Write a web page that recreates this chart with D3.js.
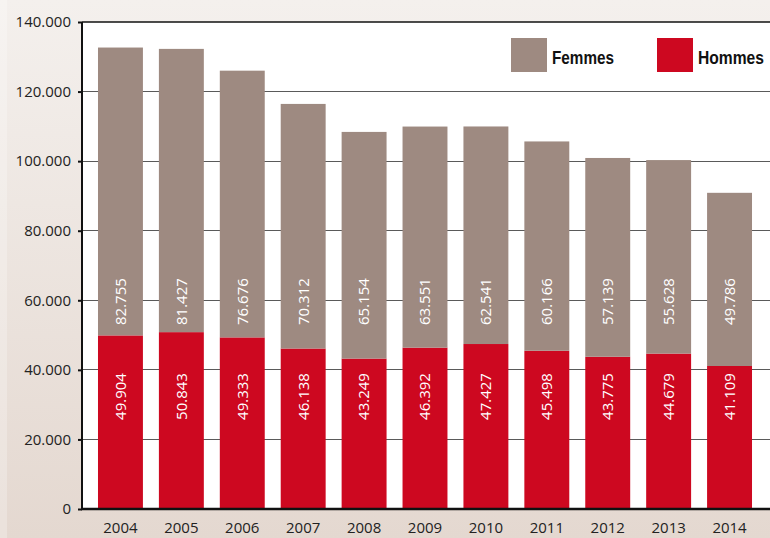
<!DOCTYPE html>
<html>
<head>
<meta charset="utf-8">
<script src="https://cdn.jsdelivr.net/npm/d3@7"></script>
<style>
html,body{margin:0;padding:0;background:#fff;}
svg{display:block;}
</style>
</head>
<body>
<svg id="chart" width="770" height="538"></svg>
<script>
const years = ["2004","2005","2006","2007","2008","2009","2010","2011","2012","2013","2014"];
const hommes = [49904,50843,49333,46138,43249,46392,47427,45498,43775,44679,41109];
const femmes = [82755,81427,76676,70312,65154,63551,62541,60166,57139,55628,49786];
const yTicks = [0,20000,40000,60000,80000,100000,120000,140000];
const seriesNames = ["Femmes","Hommes"];
const colors = {Femmes:"#9e8a81", Hommes:"#cd0820"};

(function(){
const W = 770, H = 538;
const pL = 82, pR = 770, pT = 22, pB = 509;
const svg = d3.select("#chart");
const fr = d3.formatLocale({decimal:",", thousands:".", grouping:[3], currency:["","€"]});
const fmt = fr.format(",d");

// background gradient
const defs = svg.append("defs");
const g = defs.append("linearGradient").attr("id","bg").attr("x1",0).attr("y1",0).attr("x2",0).attr("y2",1);
g.append("stop").attr("offset","0%").attr("stop-color","#f4f0ed");
g.append("stop").attr("offset","100%").attr("stop-color","#e4d8d0");
svg.append("rect").attr("width",W).attr("height",H).attr("fill","url(#bg)");
svg.append("rect").attr("width",7).attr("height",H).attr("fill","#fff").attr("opacity",0.25);

const x = d3.scaleBand().domain(years).range([90,760]).paddingInner(16/61).paddingOuter(8/61);
const y = d3.scaleLinear().domain([0,140000]).range([pB, pT]);

// plot area
svg.append("rect").attr("x",pL).attr("y",pT).attr("width",pR-pL).attr("height",pB-pT).attr("fill","#fff");

// gridlines
svg.append("g").selectAll("line").data(yTicks.filter(d=>d>0 && d<140000)).join("line")
  .attr("x1",pL).attr("x2",pR).attr("y1",d=>y(d)).attr("y2",d=>y(d))
  .attr("stroke","#5a5a5a").attr("stroke-width",1).attr("shape-rendering","crispEdges");

// bars
const data = years.map((yr,i)=>({yr, h:hommes[i], f:femmes[i]}));
const bars = svg.append("g");
bars.selectAll("rect.h").data(data).join("rect").attr("class","h")
  .attr("x",d=>x(d.yr)).attr("width",x.bandwidth())
  .attr("y",d=>y(d.h)).attr("height",d=>y(0)-y(d.h)).attr("fill",colors.Hommes);
bars.selectAll("rect.f").data(data).join("rect").attr("class","f")
  .attr("x",d=>x(d.yr)).attr("width",x.bandwidth())
  .attr("y",d=>y(d.h+d.f)).attr("height",d=>y(d.h)-y(d.h+d.f)).attr("fill",colors.Femmes);

// value labels
const lab = svg.append("g").attr("font-family","'Open Sans', sans-serif").attr("font-size",15).attr("fill","#fff");
lab.selectAll("text.h").data(data).join("text")
  .attr("transform",d=>`translate(${x(d.yr)+x.bandwidth()/2},${y(25600)}) rotate(-90)`)
  .attr("dy","0.36em").text(d=>fmt(d.h));
lab.selectAll("text.f").data(data).join("text")
  .attr("transform",d=>`translate(${x(d.yr)+x.bandwidth()/2},${y(52900)}) rotate(-90)`)
  .attr("dy","0.36em").text(d=>fmt(d.f));

// top border
svg.append("line").attr("x1",pL).attr("x2",pR).attr("y1",pT).attr("y2",pT)
  .attr("stroke","#111").attr("stroke-width",1.5);

// y axis
const yAxis = svg.append("g").attr("transform",`translate(${pL},0)`)
  .call(d3.axisLeft(y).tickValues(yTicks).tickSize(4).tickFormat(d=>fmt(d)));
yAxis.select(".domain").attr("stroke","#111").attr("stroke-width",2).attr("d",`M0,${pT}V${pB+1}`);
yAxis.selectAll(".tick line").attr("stroke","#111").attr("stroke-width",2);
yAxis.selectAll(".tick text").attr("x",-11).attr("font-family","'Open Sans', sans-serif").attr("font-size",15).attr("fill","#222");

// x axis
const xAxis = svg.append("g").attr("transform",`translate(0,${pB})`)
  .call(d3.axisBottom(x).tickSize(0).tickPadding(0));
xAxis.select(".domain").attr("stroke","#111").attr("stroke-width",2.5).attr("d",`M${pL-1},0H${pR}`);
xAxis.selectAll(".tick text").attr("y",24).attr("dy",0).attr("font-family","'Open Sans', sans-serif").attr("font-size",15).attr("fill","#222");

// legend
const legend = svg.append("g");
const lx = [511, 657];
const lw = [62, 66];
seriesNames.forEach((s,i)=>{
  legend.append("rect").attr("x",lx[i]).attr("y",38).attr("width",36).attr("height",34).attr("fill",colors[s]);
  const t = legend.append("text")
    .attr("font-family","'Liberation Sans', Arial, sans-serif").attr("font-weight","bold").attr("font-size",18)
    .attr("fill","#111").text(s);
  const nat = t.node().getComputedTextLength() || lw[i];
  t.attr("transform",`translate(${lx[i]+41},64) scale(${lw[i]/nat},1)`);
});
})();
</script>
</body>
</html>
